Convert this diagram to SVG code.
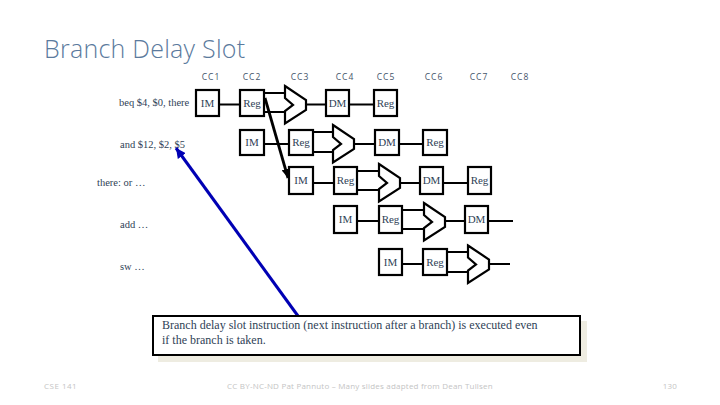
<svg xmlns="http://www.w3.org/2000/svg" width="720" height="405" viewBox="0 0 720 405">
<defs>
<marker id="ah" markerUnits="userSpaceOnUse" markerWidth="10" markerHeight="8" refX="9" refY="4" orient="auto"><path d="M0 0L9 4L0 8Z" fill="#000"/></marker>
<marker id="ahb" markerUnits="userSpaceOnUse" markerWidth="11" markerHeight="10" refX="10" refY="5" orient="auto"><path d="M0 0L10 5L0 10Z" fill="#0000b4"/></marker>
<path id="alu" d="M0 0L21 14V24L0 37.5V25L8 19L0 12Z" fill="#fff" stroke="#000" stroke-width="2.200"/>
</defs>
<style>
text{font-family:"Liberation Serif",serif;fill:#2f4256;font-size:10.5px}
.c{text-anchor:middle;font-size:11px}
.hd{font-family:"Open Sans",sans-serif;font-size:8.5px;text-anchor:middle;letter-spacing:1px;fill:#44546a}
.b{fill:#fff;stroke:#000;stroke-width:2.200}
.l{fill:none;stroke:#000;stroke-width:2}
.f{font-family:"Open Sans",sans-serif;font-size:8px;fill:#c4c4c4;letter-spacing:.2px}
</style>
<rect width="720" height="405" fill="#fff"/>
<text x="44" y="58" style="font-family:'Open Sans',sans-serif;font-size:25px;fill:#5b7a9d;font-weight:300;letter-spacing:.25px">Branch Delay Slot</text>
<g id="headers">
<text class="hd" x="211" y="80">CC1</text><text class="hd" x="252" y="80">CC2</text><text class="hd" x="300" y="80">CC3</text><text class="hd" x="345" y="80">CC4</text><text class="hd" x="386" y="80">CC5</text><text class="hd" x="434" y="80">CC6</text><text class="hd" x="479" y="80">CC7</text><text class="hd" x="520" y="80">CC8</text>
</g>
<g id="instructions">
<text x="119" y="106">beq $4, $0, there</text>
<text x="120" y="148">and $12, $2, $5</text>
<text x="97" y="186">there: or …</text>
<text x="120" y="228">add …</text>
<text x="120" y="270">sw …</text>
</g>
<g id="connectors">
<path class="l" d="M219 104.500H240M264 93H285M264 112H285M306 104.500H326M349 104.500H374"/>
<path class="l" d="M264 144H289M313 132H333M313 152H333M354 144H375M399 144H423"/>
<path class="l" d="M313 183H334M357 171H379M357 190H379M400 183H420M443 183H468"/>
<path class="l" d="M357 221H379M402 210H424M402 229H424M444 221H465M488 221H513"/>
<path class="l" d="M402 264H423M447 252H468M447 272H468M489 264H510"/>
<path d="M265 98L288 178" fill="none" stroke="#000" stroke-width="2.800" marker-end="url(#ah)"/>
<path d="M298 316L176 148" fill="none" stroke="#0000b4" stroke-width="3" marker-end="url(#ahb)"/>
</g>
<g id="r1-im"><rect class="b" x="196" y="90" width="23" height="26"/><text class="c" x="207.500" y="107">IM</text></g>
<g id="r1-reg"><rect class="b" x="240" y="90" width="24" height="26"/><text class="c" x="252" y="107">Reg</text></g>
<g id="r1-alu"><use href="#alu" x="285" y="86"/></g>
<g id="r1-dm"><rect class="b" x="326" y="90" width="23" height="26"/><text class="c" x="337.500" y="107">DM</text></g>
<g id="r1-wb"><rect class="b" x="374" y="90" width="23" height="26"/><text class="c" x="385.500" y="107">Reg</text></g>
<g id="r2-im"><rect class="b" x="240" y="130" width="24" height="25"/><text class="c" x="252" y="146">IM</text></g>
<g id="r2-reg"><rect class="b" x="289" y="130" width="24" height="25"/><text class="c" x="301" y="146">Reg</text></g>
<g id="r2-alu"><use href="#alu" x="333" y="125"/></g>
<g id="r2-dm"><rect class="b" x="375" y="130" width="24" height="25"/><text class="c" x="387" y="146">DM</text></g>
<g id="r2-wb"><rect class="b" x="423" y="130" width="24" height="25"/><text class="c" x="435" y="146">Reg</text></g>
<g id="r3-im"><rect class="b" x="289" y="167" width="24" height="27"/><text class="c" x="301" y="184">IM</text></g>
<g id="r3-reg"><rect class="b" x="334" y="167" width="23" height="27"/><text class="c" x="345.500" y="184">Reg</text></g>
<g id="r3-alu"><use href="#alu" x="379" y="164"/></g>
<g id="r3-dm"><rect class="b" x="420" y="167" width="23" height="27"/><text class="c" x="431.500" y="184">DM</text></g>
<g id="r3-wb"><rect class="b" x="468" y="167" width="23" height="27"/><text class="c" x="479.500" y="184">Reg</text></g>
<g id="r4-im"><rect class="b" x="334" y="206" width="23" height="27"/><text class="c" x="345.500" y="223">IM</text></g>
<g id="r4-reg"><rect class="b" x="379" y="206" width="23" height="27"/><text class="c" x="390.500" y="223">Reg</text></g>
<g id="r4-alu"><use href="#alu" x="424" y="203"/></g>
<g id="r4-dm"><rect class="b" x="465" y="206" width="23" height="27"/><text class="c" x="476.500" y="223">DM</text></g>
<g id="r5-im"><rect class="b" x="379" y="249" width="23" height="26"/><text class="c" x="390.500" y="266">IM</text></g>
<g id="r5-reg"><rect class="b" x="423" y="249" width="24" height="26"/><text class="c" x="435" y="266">Reg</text></g>
<g id="r5-alu"><use href="#alu" x="468" y="245.500"/></g>
<g id="callout">
<rect x="158" y="321" width="429" height="41" fill="#eeece1"/>
<rect x="153" y="316" width="427" height="39" fill="#fff" stroke="#000" stroke-width="2"/>
<text x="162" y="329" style="font-size:12px">Branch delay slot instruction (next instruction after a branch) is executed even</text>
<text x="162" y="344" style="font-size:12px">if the branch is taken.</text>
</g>
<g id="footer">
<text class="f" x="44" y="389" style="letter-spacing:.5px">CSE 141</text>
<text class="f" x="360" y="389" text-anchor="middle">CC BY-NC-ND Pat Pannuto – Many slides adapted from Dean Tullsen</text>
<text class="f" x="677" y="389" text-anchor="end">130</text>
</g>
</svg>
